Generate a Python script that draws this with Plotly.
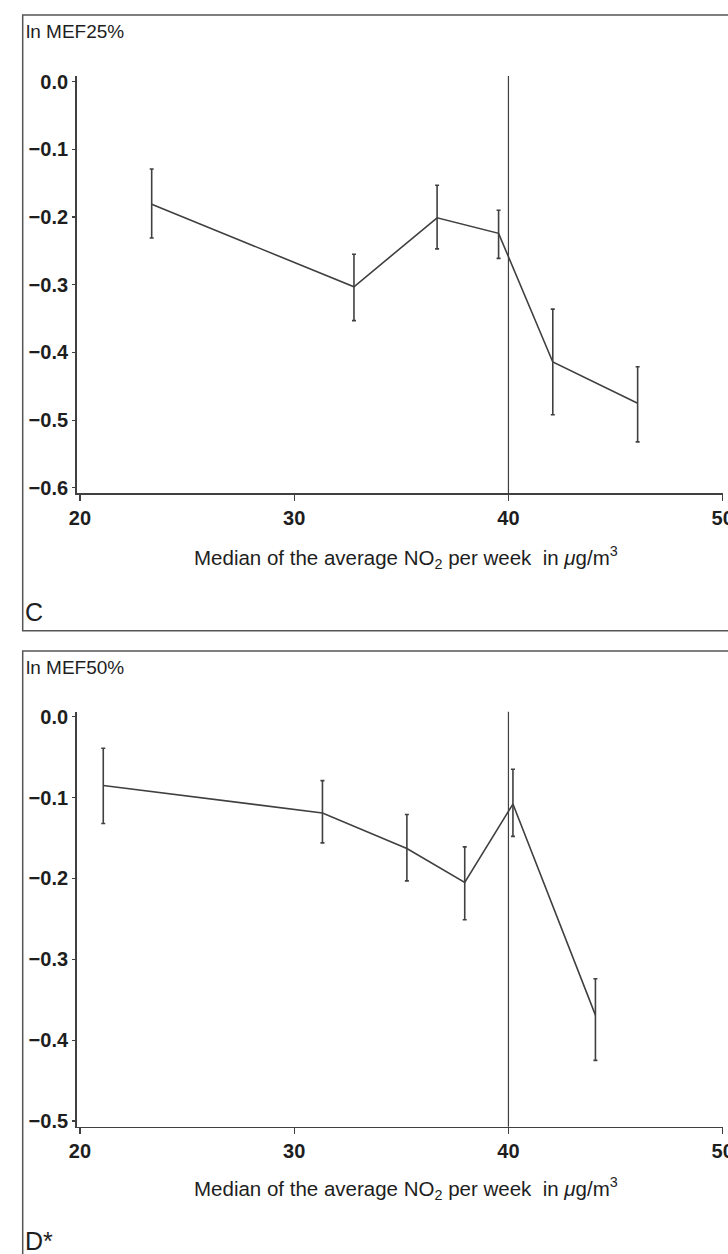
import plotly.graph_objects as go

# ---------------- data ----------------
x_ticks = [20, 30, 40, 50]
y_ticks_c = [0.0, -0.1, -0.2, -0.3, -0.4, -0.5, -0.6]
y_ticks_d = [0.0, -0.1, -0.2, -0.3, -0.4, -0.5]
ref_line_x = 40

# Panel C: ln MEF25%
no2_c = [23.35, 32.79, 36.67, 39.54, 42.07, 46.03]
mef25 = [-0.181, -0.303, -0.201, -0.224, -0.414, -0.475]
mef25_upper = [-0.129, -0.255, -0.153, -0.190, -0.336, -0.421]
mef25_lower = [-0.231, -0.353, -0.247, -0.261, -0.492, -0.532]

# Panel D: ln MEF50%
no2_d = [21.09, 31.32, 35.26, 37.96, 40.21, 44.06]
mef50 = [-0.085, -0.119, -0.163, -0.205, -0.108, -0.369]
mef50_upper = [-0.039, -0.079, -0.121, -0.161, -0.065, -0.324]
mef50_lower = [-0.132, -0.156, -0.203, -0.251, -0.148, -0.425]

y_title_c = "ln MEF25%"
y_title_d = "ln MEF50%"
x_title = "Median of the average NO<sub>2</sub> per week  in <i>μ</i>g/m<sup>3</sup>"
panel_c = "C"
panel_d = "D*"

# ---------------- layout helpers ----------------
W, H = 728, 1254
FONT = "Liberation Sans, Arial, Helvetica, sans-serif"
INK = "#1e1e1e"
LINE = "#404040"


def px_x(p):
    return p / W


def px_y(p):
    return 1 - p / H


fig = go.Figure()

for yv, up, lo, xv, ax in [
    (mef25, mef25_upper, mef25_lower, no2_c, ("x", "y")),
    (mef50, mef50_upper, mef50_lower, no2_d, ("x2", "y2")),
]:
    plus = [u - v for u, v in zip(up, yv)]
    minus = [v - l for v, l in zip(yv, lo)]
    fig.add_trace(go.Scatter(
        x=xv, y=yv, mode="lines",
        line=dict(color=LINE, width=1.6),
        error_y=dict(type="data", array=plus, arrayminus=minus,
                     color=LINE, thickness=1.6, width=2),
        xaxis=ax[0], yaxis=ax[1], showlegend=False, hoverinfo="skip",
    ))

tick_font = dict(family=FONT, size=20, color=INK, weight="bold")

xaxis_common = dict(
    range=[19.85, 50.0], tickvals=x_ticks, ticktext=[str(v) for v in x_ticks],
    showline=True, linecolor=LINE, linewidth=1.6,
    ticks="outside", ticklen=6, tickwidth=1.2, tickcolor=LINE,
    showgrid=False, zeroline=False, ticklabeloverflow="allow", automargin=False,
    tickfont=tick_font,
    domain=[px_x(76.7), px_x(722.7)],
)
yaxis_common = dict(
    showline=True, linecolor=LINE, linewidth=1.6,
    ticks="outside", ticklen=3, tickwidth=1.2, tickcolor=LINE,
    showgrid=False, zeroline=False, tickformat=".1f", automargin=False,
    tickfont=tick_font,
)

fig.update_layout(
    width=W, height=H,
    margin=dict(l=0, r=0, t=0, b=0, autoexpand=False),
    paper_bgcolor="white", plot_bgcolor="white",
    xaxis=dict(**xaxis_common, anchor="y"),
    yaxis=dict(**yaxis_common, range=[-0.608, 0.0084], tickvals=y_ticks_c,
               domain=[px_y(493.3), px_y(76)], anchor="x"),
    xaxis2=dict(**xaxis_common, anchor="y2"),
    yaxis2=dict(**yaxis_common, range=[-0.507, 0.0062], tickvals=y_ticks_d,
                domain=[px_y(1126.7), px_y(711.7)], anchor="x2"),
)

# reference line at 40
for xr, yr in [("x", "y domain"), ("x2", "y2 domain")]:
    fig.add_shape(type="line", xref=xr, yref=yr, x0=ref_line_x, x1=ref_line_x,
                  y0=0, y1=1, line=dict(color=LINE, width=1.2))

# panel frames
fig.add_shape(type="rect", xref="paper", yref="paper",
              x0=px_x(22.7), x1=px_x(740), y0=px_y(630.7), y1=px_y(15),
              line=dict(color="#555555", width=1.5))
fig.add_shape(type="rect", xref="paper", yref="paper",
              x0=px_x(22.7), x1=px_x(740), y0=px_y(1270), y1=px_y(651),
              line=dict(color="#555555", width=1.5))

ann = []
for txt, ypx in [(y_title_c, 31.5), (y_title_d, 667.5)]:
    ann.append(dict(text=txt, x=px_x(24), y=px_y(ypx), xref="paper", yref="paper",
                    xanchor="left", yanchor="middle", showarrow=False,
                    font=dict(family=FONT, size=19, color=INK)))
for ypx in [557, 1188]:
    ann.append(dict(text=x_title, x=px_x(406), y=px_y(ypx), xref="paper", yref="paper",
                    xanchor="center", yanchor="middle", showarrow=False,
                    font=dict(family=FONT, size=20.5, color=INK)))
for txt, ypx in [(panel_c, 612), (panel_d, 1241)]:
    ann.append(dict(text=txt, x=px_x(23), y=px_y(ypx), xref="paper", yref="paper",
                    xanchor="left", yanchor="middle", showarrow=False,
                    font=dict(family=FONT, size=25, color=INK)))
fig.update_layout(annotations=ann)

fig.write_html(
    "out.html",
    config={"displayModeBar": False, "staticPlot": True},
    post_script="document.body.style.margin='0';document.body.style.overflow='hidden';",
)
